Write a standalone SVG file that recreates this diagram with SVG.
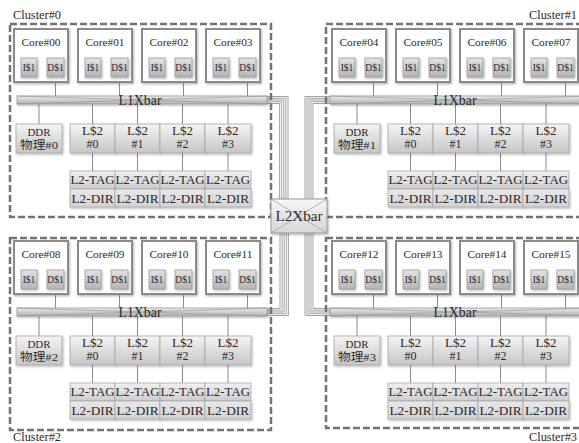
<svg xmlns="http://www.w3.org/2000/svg" width="579" height="443" viewBox="0 0 579 443" font-family="'Liberation Serif','DejaVu Serif','Noto Sans CJK JP',serif">
<defs>
<linearGradient id="gS" x1="0" y1="0" x2="0" y2="1"><stop offset="0" stop-color="#e4e4e4"/><stop offset="1" stop-color="#b4b4b4"/></linearGradient>
<linearGradient id="gB" x1="0" y1="0" x2="0" y2="1"><stop offset="0" stop-color="#f4f4f4"/><stop offset="1" stop-color="#c6c6c6"/></linearGradient>
<linearGradient id="gT" x1="0" y1="0" x2="0" y2="1"><stop offset="0" stop-color="#f0f0f0"/><stop offset="1" stop-color="#cdcdcd"/></linearGradient>
<linearGradient id="gD" x1="0" y1="0" x2="0" y2="1"><stop offset="0" stop-color="#e8e8e8"/><stop offset="1" stop-color="#d2d2d2"/></linearGradient>
<linearGradient id="gX" x1="0" y1="0" x2="0" y2="1"><stop offset="0" stop-color="#ececec"/><stop offset="1" stop-color="#b0b0b0"/></linearGradient>
<linearGradient id="g2" x1="0" y1="0" x2="0" y2="1"><stop offset="0" stop-color="#f6f6f6"/><stop offset="1" stop-color="#d6d6d6"/></linearGradient>
<filter id="sh" x="-10%" y="-10%" width="130%" height="140%"><feDropShadow dx="1" dy="1.2" stdDeviation="0.8" flood-color="#000" flood-opacity="0.3"/></filter>
</defs>
<style>
.dash{fill:none;stroke:#737373;stroke-width:2.5;stroke-dasharray:7 3}
.core{fill:#fff;stroke:#8a8a8a;stroke-width:2;filter:url(#sh)}
.l1c{fill:url(#gS);stroke:#9a9a9a;stroke-width:0.8;filter:url(#sh)}
.box{fill:url(#gB);stroke:#a8a8a8;stroke-width:0.8;filter:url(#sh)}
.tag{fill:url(#gT);stroke:#a8a8a8;stroke-width:0.8}
.dir{fill:url(#gD);stroke:#a8a8a8;stroke-width:0.8;filter:url(#sh)}
.xbar{fill:url(#gX);stroke:#9a9a9a;stroke-width:0.8;filter:url(#sh)}
.xd{fill:none;stroke:#999;stroke-width:0.7}
.l2{fill:url(#g2);stroke:#999;stroke-width:1;filter:url(#sh)}
.w{fill:none;stroke:#8a8a8a;stroke-width:1}
.bw{fill:none;stroke:#8c8c8c;stroke-width:0.8}
text{font-family:"Liberation Serif","DejaVu Serif","Noto Sans CJK JP",serif;fill:#2a2a2a;text-anchor:middle}
.lbl{font-size:12px;text-anchor:start}
.lble{font-size:12px;text-anchor:end}
.tc{font-size:11px}
.ts{font-size:9.5px}
.tx{font-size:14px}
.tm{font-size:11px}
.tl{font-size:13px}
.tn{font-size:12px}
.tt{font-size:13px}
.t2{font-size:15.5px}
</style>

<g id="connectors">
 <g transform="translate(0,0)"><path class="w" d="M55.5 77V96M119.5 77V96M183.5 77V96M247.5 77V96M39 104V124M92.5 104V124M137.5 104V124M182.5 104V124M228 104V124M92.5 153V171M137.5 153V171M182.5 153V171M228 153V171"/></g>
 <g transform="translate(318,0)"><path class="w" d="M55.5 77V96M119.5 77V96M183.5 77V96M247.5 77V96M39 104V124M92.5 104V124M137.5 104V124M182.5 104V124M228 104V124M92.5 153V171M137.5 153V171M182.5 153V171M228 153V171"/></g>
 <g transform="translate(0,212)"><path class="w" d="M55.5 77V96M119.5 77V96M183.5 77V96M247.5 77V96M39 104V124M92.5 104V124M137.5 104V124M182.5 104V124M228 104V124M92.5 153V171M137.5 153V171M182.5 153V171M228 153V171"/></g>
 <g transform="translate(318,212)"><path class="w" d="M55.5 77V96M119.5 77V96M183.5 77V96M247.5 77V96M39 104V124M92.5 104V124M137.5 104V124M182.5 104V124M228 104V124M92.5 153V171M137.5 153V171M182.5 153V171M228 153V171"/></g>
 <path class="bw" d="M267 96.5H288V199M267 98.25H285.9V199M267 100H283.8V199M267 101.75H281.7V199M267 103.5H279.6V199"/>
 <path class="bw" d="M330 96.5H305V199M330 98.25H307V199M330 100H309V199M330 101.75H311V199M330 103.5H313V199"/>
 <path class="bw" d="M280 233V308.5H267M282.1 233V310.25H267M284.2 233V312H267M286.3 233V313.75H267M288.4 233V315.5H267"/>
 <path class="bw" d="M313 233V308.5H330M311 233V310.25H330M309 233V312H330M307 233V313.75H330M305 233V315.5H330"/>
</g>

<!-- Cluster 0 -->
<g id="cluster0" transform="translate(0,0)">
 <rect class="dash" x="10" y="24" width="261" height="193"/>
 <text class="lbl" x="13" y="19" textLength="48" lengthAdjust="spacingAndGlyphs">Cluster#0</text>
 <g id="c0-core00"><rect class="core" x="14" y="29" width="54" height="53"/><text class="tc" x="41" y="46" textLength="39" lengthAdjust="spacingAndGlyphs">Core#00</text>
  <g id="c0-core00-i"><rect class="l1c" x="21" y="58" width="16" height="19"/><text class="ts" x="29" y="71">I$1</text></g>
  <g id="c0-core00-d"><rect class="l1c" x="47" y="58" width="17" height="19"/><text class="ts" x="55.5" y="71">D$1</text></g></g>
 <g id="c0-core01"><rect class="core" x="78" y="29" width="54" height="53"/><text class="tc" x="105" y="46" textLength="39" lengthAdjust="spacingAndGlyphs">Core#01</text>
  <g id="c0-core01-i"><rect class="l1c" x="85" y="58" width="16" height="19"/><text class="ts" x="93" y="71">I$1</text></g>
  <g id="c0-core01-d"><rect class="l1c" x="111" y="58" width="17" height="19"/><text class="ts" x="119.5" y="71">D$1</text></g></g>
 <g id="c0-core02"><rect class="core" x="142" y="29" width="54" height="53"/><text class="tc" x="169" y="46" textLength="39" lengthAdjust="spacingAndGlyphs">Core#02</text>
  <g id="c0-core02-i"><rect class="l1c" x="149" y="58" width="16" height="19"/><text class="ts" x="157" y="71">I$1</text></g>
  <g id="c0-core02-d"><rect class="l1c" x="175" y="58" width="17" height="19"/><text class="ts" x="183.5" y="71">D$1</text></g></g>
 <g id="c0-core03"><rect class="core" x="206" y="29" width="54" height="53"/><text class="tc" x="233" y="46" textLength="39" lengthAdjust="spacingAndGlyphs">Core#03</text>
  <g id="c0-core03-i"><rect class="l1c" x="213" y="58" width="16" height="19"/><text class="ts" x="221" y="71">I$1</text></g>
  <g id="c0-core03-d"><rect class="l1c" x="239" y="58" width="17" height="19"/><text class="ts" x="247.5" y="71">D$1</text></g></g>
 <g id="c0-l1xbar"><rect class="xbar" x="17" y="96" width="250" height="8"/><path class="xd" d="M17 96L267 104M17 104L267 96"/><text class="tx" x="140" y="104.5" textLength="43" lengthAdjust="spacingAndGlyphs">L1Xbar</text></g>
 <g id="c0-ddr"><rect class="box" x="16" y="124" width="46" height="29"/><text class="tm" x="39" y="136" textLength="23" lengthAdjust="spacingAndGlyphs">DDR</text><text class="tm" x="39" y="149" textLength="38" lengthAdjust="spacingAndGlyphs">物理#0</text></g>
 <g id="c0-l2-0"><rect class="box" x="70" y="124" width="45" height="29"/><text class="tl" x="92.5" y="135" textLength="21" lengthAdjust="spacingAndGlyphs">L$2</text><text class="tn" x="92.5" y="148">#0</text></g>
 <g id="c0-l2-1"><rect class="box" x="115" y="124" width="45" height="29"/><text class="tl" x="137.5" y="135" textLength="21" lengthAdjust="spacingAndGlyphs">L$2</text><text class="tn" x="137.5" y="148">#1</text></g>
 <g id="c0-l2-2"><rect class="box" x="160" y="124" width="45" height="29"/><text class="tl" x="182.5" y="135" textLength="21" lengthAdjust="spacingAndGlyphs">L$2</text><text class="tn" x="182.5" y="148">#2</text></g>
 <g id="c0-l2-3"><rect class="box" x="205" y="124" width="46" height="29"/><text class="tl" x="228" y="135" textLength="21" lengthAdjust="spacingAndGlyphs">L$2</text><text class="tn" x="228" y="148">#3</text></g>
 <g id="c0-tag0"><rect class="tag" x="70" y="171" width="45" height="18"/><text class="tt" x="92.5" y="184" textLength="44" lengthAdjust="spacingAndGlyphs">L2-TAG</text></g>
 <g id="c0-tag1"><rect class="tag" x="115" y="171" width="45" height="18"/><text class="tt" x="137.5" y="184" textLength="44" lengthAdjust="spacingAndGlyphs">L2-TAG</text></g>
 <g id="c0-tag2"><rect class="tag" x="160" y="171" width="45" height="18"/><text class="tt" x="182.5" y="184" textLength="44" lengthAdjust="spacingAndGlyphs">L2-TAG</text></g>
 <g id="c0-tag3"><rect class="tag" x="205" y="171" width="46" height="18"/><text class="tt" x="228" y="184" textLength="44" lengthAdjust="spacingAndGlyphs">L2-TAG</text></g>
 <g id="c0-dir0"><rect class="dir" x="70" y="189" width="45" height="18"/><text class="tt" x="92.5" y="203" textLength="42" lengthAdjust="spacingAndGlyphs">L2-DIR</text></g>
 <g id="c0-dir1"><rect class="dir" x="115" y="189" width="45" height="18"/><text class="tt" x="137.5" y="203" textLength="42" lengthAdjust="spacingAndGlyphs">L2-DIR</text></g>
 <g id="c0-dir2"><rect class="dir" x="160" y="189" width="45" height="18"/><text class="tt" x="182.5" y="203" textLength="42" lengthAdjust="spacingAndGlyphs">L2-DIR</text></g>
 <g id="c0-dir3"><rect class="dir" x="205" y="189" width="46" height="18"/><text class="tt" x="228" y="203" textLength="42" lengthAdjust="spacingAndGlyphs">L2-DIR</text></g>
</g>

<!-- Cluster 1 -->
<g id="cluster1" transform="translate(318,0)">
 <rect class="dash" x="8" y="24" width="272" height="193"/>
 <text class="lble" x="259" y="19" textLength="48" lengthAdjust="spacingAndGlyphs">Cluster#1</text>
 <g id="c1-core04"><rect class="core" x="14" y="29" width="54" height="53"/><text class="tc" x="41" y="46" textLength="39" lengthAdjust="spacingAndGlyphs">Core#04</text>
  <g id="c1-core04-i"><rect class="l1c" x="21" y="58" width="16" height="19"/><text class="ts" x="29" y="71">I$1</text></g>
  <g id="c1-core04-d"><rect class="l1c" x="47" y="58" width="17" height="19"/><text class="ts" x="55.5" y="71">D$1</text></g></g>
 <g id="c1-core05"><rect class="core" x="78" y="29" width="54" height="53"/><text class="tc" x="105" y="46" textLength="39" lengthAdjust="spacingAndGlyphs">Core#05</text>
  <g id="c1-core05-i"><rect class="l1c" x="85" y="58" width="16" height="19"/><text class="ts" x="93" y="71">I$1</text></g>
  <g id="c1-core05-d"><rect class="l1c" x="111" y="58" width="17" height="19"/><text class="ts" x="119.5" y="71">D$1</text></g></g>
 <g id="c1-core06"><rect class="core" x="142" y="29" width="54" height="53"/><text class="tc" x="169" y="46" textLength="39" lengthAdjust="spacingAndGlyphs">Core#06</text>
  <g id="c1-core06-i"><rect class="l1c" x="149" y="58" width="16" height="19"/><text class="ts" x="157" y="71">I$1</text></g>
  <g id="c1-core06-d"><rect class="l1c" x="175" y="58" width="17" height="19"/><text class="ts" x="183.5" y="71">D$1</text></g></g>
 <g id="c1-core07"><rect class="core" x="206" y="29" width="54" height="53"/><text class="tc" x="233" y="46" textLength="39" lengthAdjust="spacingAndGlyphs">Core#07</text>
  <g id="c1-core07-i"><rect class="l1c" x="213" y="58" width="16" height="19"/><text class="ts" x="221" y="71">I$1</text></g>
  <g id="c1-core07-d"><rect class="l1c" x="239" y="58" width="17" height="19"/><text class="ts" x="247.5" y="71">D$1</text></g></g>
 <g id="c1-l1xbar"><rect class="xbar" x="12" y="96" width="262" height="8"/><path class="xd" d="M12 96L274 104M12 104L274 96"/><text class="tx" x="137" y="104.5" textLength="43" lengthAdjust="spacingAndGlyphs">L1Xbar</text></g>
 <g id="c1-ddr"><rect class="box" x="16" y="124" width="46" height="29"/><text class="tm" x="39" y="136" textLength="23" lengthAdjust="spacingAndGlyphs">DDR</text><text class="tm" x="39" y="149" textLength="38" lengthAdjust="spacingAndGlyphs">物理#1</text></g>
 <g id="c1-l2-0"><rect class="box" x="70" y="124" width="45" height="29"/><text class="tl" x="92.5" y="135" textLength="21" lengthAdjust="spacingAndGlyphs">L$2</text><text class="tn" x="92.5" y="148">#0</text></g>
 <g id="c1-l2-1"><rect class="box" x="115" y="124" width="45" height="29"/><text class="tl" x="137.5" y="135" textLength="21" lengthAdjust="spacingAndGlyphs">L$2</text><text class="tn" x="137.5" y="148">#1</text></g>
 <g id="c1-l2-2"><rect class="box" x="160" y="124" width="45" height="29"/><text class="tl" x="182.5" y="135" textLength="21" lengthAdjust="spacingAndGlyphs">L$2</text><text class="tn" x="182.5" y="148">#2</text></g>
 <g id="c1-l2-3"><rect class="box" x="205" y="124" width="46" height="29"/><text class="tl" x="228" y="135" textLength="21" lengthAdjust="spacingAndGlyphs">L$2</text><text class="tn" x="228" y="148">#3</text></g>
 <g id="c1-tag0"><rect class="tag" x="70" y="171" width="45" height="18"/><text class="tt" x="92.5" y="184" textLength="44" lengthAdjust="spacingAndGlyphs">L2-TAG</text></g>
 <g id="c1-tag1"><rect class="tag" x="115" y="171" width="45" height="18"/><text class="tt" x="137.5" y="184" textLength="44" lengthAdjust="spacingAndGlyphs">L2-TAG</text></g>
 <g id="c1-tag2"><rect class="tag" x="160" y="171" width="45" height="18"/><text class="tt" x="182.5" y="184" textLength="44" lengthAdjust="spacingAndGlyphs">L2-TAG</text></g>
 <g id="c1-tag3"><rect class="tag" x="205" y="171" width="46" height="18"/><text class="tt" x="228" y="184" textLength="44" lengthAdjust="spacingAndGlyphs">L2-TAG</text></g>
 <g id="c1-dir0"><rect class="dir" x="70" y="189" width="45" height="18"/><text class="tt" x="92.5" y="203" textLength="42" lengthAdjust="spacingAndGlyphs">L2-DIR</text></g>
 <g id="c1-dir1"><rect class="dir" x="115" y="189" width="45" height="18"/><text class="tt" x="137.5" y="203" textLength="42" lengthAdjust="spacingAndGlyphs">L2-DIR</text></g>
 <g id="c1-dir2"><rect class="dir" x="160" y="189" width="45" height="18"/><text class="tt" x="182.5" y="203" textLength="42" lengthAdjust="spacingAndGlyphs">L2-DIR</text></g>
 <g id="c1-dir3"><rect class="dir" x="205" y="189" width="46" height="18"/><text class="tt" x="228" y="203" textLength="42" lengthAdjust="spacingAndGlyphs">L2-DIR</text></g>
</g>

<!-- Cluster 2 -->
<g id="cluster2" transform="translate(0,212)">
 <rect class="dash" x="10" y="26" width="261" height="192"/>
 <text class="lbl" x="13" y="229" textLength="48" lengthAdjust="spacingAndGlyphs">Cluster#2</text>
 <g id="c2-core08"><rect class="core" x="14" y="29" width="54" height="53"/><text class="tc" x="41" y="46" textLength="39" lengthAdjust="spacingAndGlyphs">Core#08</text>
  <g id="c2-core08-i"><rect class="l1c" x="21" y="58" width="16" height="19"/><text class="ts" x="29" y="71">I$1</text></g>
  <g id="c2-core08-d"><rect class="l1c" x="47" y="58" width="17" height="19"/><text class="ts" x="55.5" y="71">D$1</text></g></g>
 <g id="c2-core09"><rect class="core" x="78" y="29" width="54" height="53"/><text class="tc" x="105" y="46" textLength="39" lengthAdjust="spacingAndGlyphs">Core#09</text>
  <g id="c2-core09-i"><rect class="l1c" x="85" y="58" width="16" height="19"/><text class="ts" x="93" y="71">I$1</text></g>
  <g id="c2-core09-d"><rect class="l1c" x="111" y="58" width="17" height="19"/><text class="ts" x="119.5" y="71">D$1</text></g></g>
 <g id="c2-core10"><rect class="core" x="142" y="29" width="54" height="53"/><text class="tc" x="169" y="46" textLength="39" lengthAdjust="spacingAndGlyphs">Core#10</text>
  <g id="c2-core10-i"><rect class="l1c" x="149" y="58" width="16" height="19"/><text class="ts" x="157" y="71">I$1</text></g>
  <g id="c2-core10-d"><rect class="l1c" x="175" y="58" width="17" height="19"/><text class="ts" x="183.5" y="71">D$1</text></g></g>
 <g id="c2-core11"><rect class="core" x="206" y="29" width="54" height="53"/><text class="tc" x="233" y="46" textLength="39" lengthAdjust="spacingAndGlyphs">Core#11</text>
  <g id="c2-core11-i"><rect class="l1c" x="213" y="58" width="16" height="19"/><text class="ts" x="221" y="71">I$1</text></g>
  <g id="c2-core11-d"><rect class="l1c" x="239" y="58" width="17" height="19"/><text class="ts" x="247.5" y="71">D$1</text></g></g>
 <g id="c2-l1xbar"><rect class="xbar" x="17" y="96" width="250" height="8"/><path class="xd" d="M17 96L267 104M17 104L267 96"/><text class="tx" x="140" y="104.5" textLength="43" lengthAdjust="spacingAndGlyphs">L1Xbar</text></g>
 <g id="c2-ddr"><rect class="box" x="16" y="124" width="46" height="29"/><text class="tm" x="39" y="136" textLength="23" lengthAdjust="spacingAndGlyphs">DDR</text><text class="tm" x="39" y="149" textLength="38" lengthAdjust="spacingAndGlyphs">物理#2</text></g>
 <g id="c2-l2-0"><rect class="box" x="70" y="124" width="45" height="29"/><text class="tl" x="92.5" y="135" textLength="21" lengthAdjust="spacingAndGlyphs">L$2</text><text class="tn" x="92.5" y="148">#0</text></g>
 <g id="c2-l2-1"><rect class="box" x="115" y="124" width="45" height="29"/><text class="tl" x="137.5" y="135" textLength="21" lengthAdjust="spacingAndGlyphs">L$2</text><text class="tn" x="137.5" y="148">#1</text></g>
 <g id="c2-l2-2"><rect class="box" x="160" y="124" width="45" height="29"/><text class="tl" x="182.5" y="135" textLength="21" lengthAdjust="spacingAndGlyphs">L$2</text><text class="tn" x="182.5" y="148">#2</text></g>
 <g id="c2-l2-3"><rect class="box" x="205" y="124" width="46" height="29"/><text class="tl" x="228" y="135" textLength="21" lengthAdjust="spacingAndGlyphs">L$2</text><text class="tn" x="228" y="148">#3</text></g>
 <g id="c2-tag0"><rect class="tag" x="70" y="171" width="45" height="18"/><text class="tt" x="92.5" y="184" textLength="44" lengthAdjust="spacingAndGlyphs">L2-TAG</text></g>
 <g id="c2-tag1"><rect class="tag" x="115" y="171" width="45" height="18"/><text class="tt" x="137.5" y="184" textLength="44" lengthAdjust="spacingAndGlyphs">L2-TAG</text></g>
 <g id="c2-tag2"><rect class="tag" x="160" y="171" width="45" height="18"/><text class="tt" x="182.5" y="184" textLength="44" lengthAdjust="spacingAndGlyphs">L2-TAG</text></g>
 <g id="c2-tag3"><rect class="tag" x="205" y="171" width="46" height="18"/><text class="tt" x="228" y="184" textLength="44" lengthAdjust="spacingAndGlyphs">L2-TAG</text></g>
 <g id="c2-dir0"><rect class="dir" x="70" y="189" width="45" height="18"/><text class="tt" x="92.5" y="203" textLength="42" lengthAdjust="spacingAndGlyphs">L2-DIR</text></g>
 <g id="c2-dir1"><rect class="dir" x="115" y="189" width="45" height="18"/><text class="tt" x="137.5" y="203" textLength="42" lengthAdjust="spacingAndGlyphs">L2-DIR</text></g>
 <g id="c2-dir2"><rect class="dir" x="160" y="189" width="45" height="18"/><text class="tt" x="182.5" y="203" textLength="42" lengthAdjust="spacingAndGlyphs">L2-DIR</text></g>
 <g id="c2-dir3"><rect class="dir" x="205" y="189" width="46" height="18"/><text class="tt" x="228" y="203" textLength="42" lengthAdjust="spacingAndGlyphs">L2-DIR</text></g>
</g>

<!-- Cluster 3 -->
<g id="cluster3" transform="translate(318,212)">
 <rect class="dash" x="8" y="26" width="272" height="190"/>
 <text class="lble" x="259" y="229" textLength="48" lengthAdjust="spacingAndGlyphs">Cluster#3</text>
 <g id="c3-core12"><rect class="core" x="14" y="29" width="54" height="53"/><text class="tc" x="41" y="46" textLength="39" lengthAdjust="spacingAndGlyphs">Core#12</text>
  <g id="c3-core12-i"><rect class="l1c" x="21" y="58" width="16" height="19"/><text class="ts" x="29" y="71">I$1</text></g>
  <g id="c3-core12-d"><rect class="l1c" x="47" y="58" width="17" height="19"/><text class="ts" x="55.5" y="71">D$1</text></g></g>
 <g id="c3-core13"><rect class="core" x="78" y="29" width="54" height="53"/><text class="tc" x="105" y="46" textLength="39" lengthAdjust="spacingAndGlyphs">Core#13</text>
  <g id="c3-core13-i"><rect class="l1c" x="85" y="58" width="16" height="19"/><text class="ts" x="93" y="71">I$1</text></g>
  <g id="c3-core13-d"><rect class="l1c" x="111" y="58" width="17" height="19"/><text class="ts" x="119.5" y="71">D$1</text></g></g>
 <g id="c3-core14"><rect class="core" x="142" y="29" width="54" height="53"/><text class="tc" x="169" y="46" textLength="39" lengthAdjust="spacingAndGlyphs">Core#14</text>
  <g id="c3-core14-i"><rect class="l1c" x="149" y="58" width="16" height="19"/><text class="ts" x="157" y="71">I$1</text></g>
  <g id="c3-core14-d"><rect class="l1c" x="175" y="58" width="17" height="19"/><text class="ts" x="183.5" y="71">D$1</text></g></g>
 <g id="c3-core15"><rect class="core" x="206" y="29" width="54" height="53"/><text class="tc" x="233" y="46" textLength="39" lengthAdjust="spacingAndGlyphs">Core#15</text>
  <g id="c3-core15-i"><rect class="l1c" x="213" y="58" width="16" height="19"/><text class="ts" x="221" y="71">I$1</text></g>
  <g id="c3-core15-d"><rect class="l1c" x="239" y="58" width="17" height="19"/><text class="ts" x="247.5" y="71">D$1</text></g></g>
 <g id="c3-l1xbar"><rect class="xbar" x="12" y="96" width="262" height="8"/><path class="xd" d="M12 96L274 104M12 104L274 96"/><text class="tx" x="137" y="104.5" textLength="43" lengthAdjust="spacingAndGlyphs">L1Xbar</text></g>
 <g id="c3-ddr"><rect class="box" x="16" y="124" width="46" height="29"/><text class="tm" x="39" y="136" textLength="23" lengthAdjust="spacingAndGlyphs">DDR</text><text class="tm" x="39" y="149" textLength="38" lengthAdjust="spacingAndGlyphs">物理#3</text></g>
 <g id="c3-l2-0"><rect class="box" x="70" y="124" width="45" height="29"/><text class="tl" x="92.5" y="135" textLength="21" lengthAdjust="spacingAndGlyphs">L$2</text><text class="tn" x="92.5" y="148">#0</text></g>
 <g id="c3-l2-1"><rect class="box" x="115" y="124" width="45" height="29"/><text class="tl" x="137.5" y="135" textLength="21" lengthAdjust="spacingAndGlyphs">L$2</text><text class="tn" x="137.5" y="148">#1</text></g>
 <g id="c3-l2-2"><rect class="box" x="160" y="124" width="45" height="29"/><text class="tl" x="182.5" y="135" textLength="21" lengthAdjust="spacingAndGlyphs">L$2</text><text class="tn" x="182.5" y="148">#2</text></g>
 <g id="c3-l2-3"><rect class="box" x="205" y="124" width="46" height="29"/><text class="tl" x="228" y="135" textLength="21" lengthAdjust="spacingAndGlyphs">L$2</text><text class="tn" x="228" y="148">#3</text></g>
 <g id="c3-tag0"><rect class="tag" x="70" y="171" width="45" height="18"/><text class="tt" x="92.5" y="184" textLength="44" lengthAdjust="spacingAndGlyphs">L2-TAG</text></g>
 <g id="c3-tag1"><rect class="tag" x="115" y="171" width="45" height="18"/><text class="tt" x="137.5" y="184" textLength="44" lengthAdjust="spacingAndGlyphs">L2-TAG</text></g>
 <g id="c3-tag2"><rect class="tag" x="160" y="171" width="45" height="18"/><text class="tt" x="182.5" y="184" textLength="44" lengthAdjust="spacingAndGlyphs">L2-TAG</text></g>
 <g id="c3-tag3"><rect class="tag" x="205" y="171" width="46" height="18"/><text class="tt" x="228" y="184" textLength="44" lengthAdjust="spacingAndGlyphs">L2-TAG</text></g>
 <g id="c3-dir0"><rect class="dir" x="70" y="189" width="45" height="18"/><text class="tt" x="92.5" y="203" textLength="42" lengthAdjust="spacingAndGlyphs">L2-DIR</text></g>
 <g id="c3-dir1"><rect class="dir" x="115" y="189" width="45" height="18"/><text class="tt" x="137.5" y="203" textLength="42" lengthAdjust="spacingAndGlyphs">L2-DIR</text></g>
 <g id="c3-dir2"><rect class="dir" x="160" y="189" width="45" height="18"/><text class="tt" x="182.5" y="203" textLength="42" lengthAdjust="spacingAndGlyphs">L2-DIR</text></g>
 <g id="c3-dir3"><rect class="dir" x="205" y="189" width="46" height="18"/><text class="tt" x="228" y="203" textLength="42" lengthAdjust="spacingAndGlyphs">L2-DIR</text></g>
</g>

<g id="l2xbar">
 <rect class="l2" x="271" y="199" width="56" height="34"/>
 <path class="xd" d="M271 199L327 233M271 233L327 199"/>
 <text class="t2" x="299" y="221" textLength="47" lengthAdjust="spacingAndGlyphs">L2Xbar</text>
</g>
</svg>
